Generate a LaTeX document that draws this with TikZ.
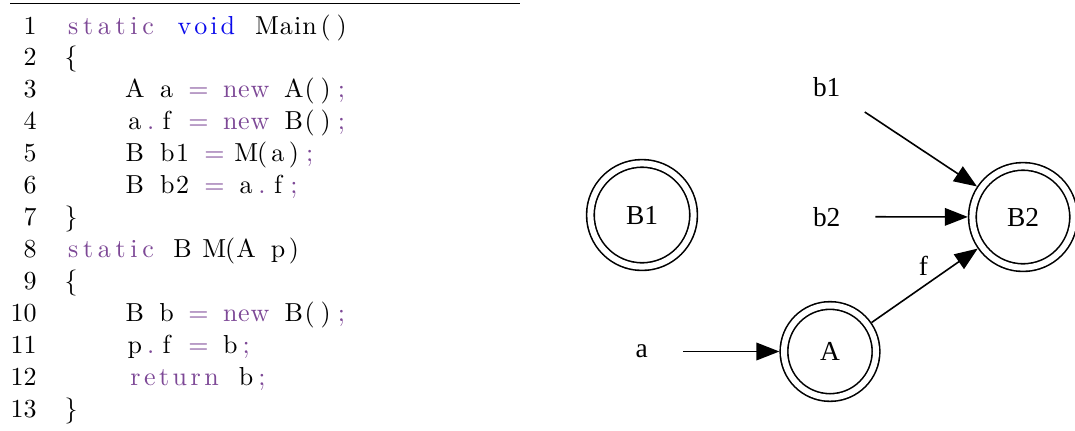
\documentclass[tikz,border=0pt]{standalone}
\usepackage{fontspec}
\usetikzlibrary{arrows.meta}
\newfontfamily\gvfont{Liberation Serif}
\newfontfamily\lmten{lmroman10-regular}[Extension=.otf]
\definecolor{kwpurple}{RGB}{125,72,150}
\definecolor{kwblue}{RGB}{10,10,235}
\newcommand\codesize{\lmten\fontsize{18.5}{22}\selectfont}
\newcommand\gvsize{\gvfont\fontsize{19.5}{23}\selectfont}
% colour switches inside a code line
\newcommand\ckw{\color{kwpurple}}
\newcommand\cblu{\color{kwblue}}
\newcommand\cnorm{\color{black}}
% fixed columns: one column per character, a {word} is spread over its columns
\ExplSyntaxOn
\dim_new:N \g_cw_dim
\dim_gset:Nn \g_cw_dim { 0.3975cm }
\cs_new_protected:Npn \__cl_item:n #1
  {
    \tl_if_single_token:nTF {#1}
      {
        \token_if_active:NTF #1
          { \hbox_to_wd:nn { \g_cw_dim } { } }
          {
            \bool_lazy_any:nTF
              {
                { \token_if_eq_meaning_p:NN #1 \ckw }
                { \token_if_eq_meaning_p:NN #1 \cblu }
                { \token_if_eq_meaning_p:NN #1 \cnorm }
              }
              { #1 }
              { \hbox_to_wd:nn { \g_cw_dim } { \hss #1 \hss } }
          }
      }
      {
        \hbox_to_wd:nn { \tl_count:n {#1} \g_cw_dim }
          { \hss \tl_map_inline:nn {#1} { ##1 \hss } }
      }
  }
\NewDocumentCommand \codeline { m } { \tl_map_inline:nn {#1} { \__cl_item:n {##1} } }
\ExplSyntaxOff
\begin{document}
\begin{tikzpicture}[x=0.025cm, y=-0.025cm,
  num/.style={anchor=base east,inner sep=0pt,font=\codesize},
  code/.style={anchor=base west,inner sep=0pt,font=\codesize},
  obj/.style={circle,draw,double,double distance=0.15cm,line width=0.04cm,inner sep=0pt,outer sep=0.115cm,font=\gvsize},
  var/.style={inner sep=0pt,minimum width=2.415cm,minimum height=1.25cm,font=\gvsize},
  ptr/.style={-{Triangle[length=0.575cm,width=0.44cm]},line width=0.04cm}]
\useasboundingbox (0,0) rectangle (1075,430);
% listing
\draw[line width=0.03cm] (10,3.3) -- (520,3.3);
\foreach \i in {1,...,13} \node[num] (n\i) at (37,{34+(\i-1)*31.92}) {\i};
\node[code] (c1) at (63,34) {\codeline{\ckw{static}~\cblu{void}~\cnorm{Main}()}};
\node[code] (c2) at (63,65.9) {\codeline{\{}};
\node[code] (c3) at (63,97.8) {\codeline{~~~~A~a~\ckw=~{new}~\cnorm A()\ckw;}};
\node[code] (c4) at (63,129.8) {\codeline{~~~~a\ckw.\cnorm f~\ckw=~{new}~\cnorm B()\ckw;}};
\node[code] (c5) at (63,161.7) {\codeline{~~~~B~{b1}~\ckw=~\cnorm M(a)\ckw;}};
\node[code] (c6) at (63,193.6) {\codeline{~~~~B~{b2}~\ckw=~\cnorm a\ckw.\cnorm f\ckw;}};
\node[code] (c7) at (63,225.5) {\codeline{\}}};
\node[code] (c8) at (63,257.4) {\codeline{\ckw{static}~\cnorm B~M(A~p)}};
\node[code] (c9) at (63,289.4) {\codeline{\{}};
\node[code] (c10) at (63,321.3) {\codeline{~~~~B~b~\ckw=~{new}~\cnorm B()\ckw;}};
\node[code] (c11) at (63,353.2) {\codeline{~~~~p\ckw.\cnorm f~\ckw=~\cnorm b\ckw;}};
\node[code] (c12) at (63,385.1) {\codeline{~~~~\ckw{return}~\cnorm b\ckw;}};
\node[code] (c13) at (63,417) {\codeline{\}}};
% points-to graph
\node[obj,minimum size=2.58cm] (B1) at (642,215) {B1};
\node[obj,minimum size=2.53cm] (B2) at (1023,217) {B2};
\node[obj,minimum size=2.3cm] (A) at (830,351.5) {A};
\node[var] (b1) at (826.7,86.7) {b1};
\node[var] (b2) at (826.7,216.7) {b2};
\node[var,minimum width=2.05cm] (a) at (641.7,351.5) {a};
\draw[ptr] (b1) -- (B2);
\draw[ptr] (b2) -- (B2);
\draw[ptr] (a) -- (A);
\draw[ptr] (A) -- node[pos=0.58,xshift=-0.24cm,yshift=0.35cm,font=\gvsize] (f) {f} (B2);
\end{tikzpicture}
\end{document}
